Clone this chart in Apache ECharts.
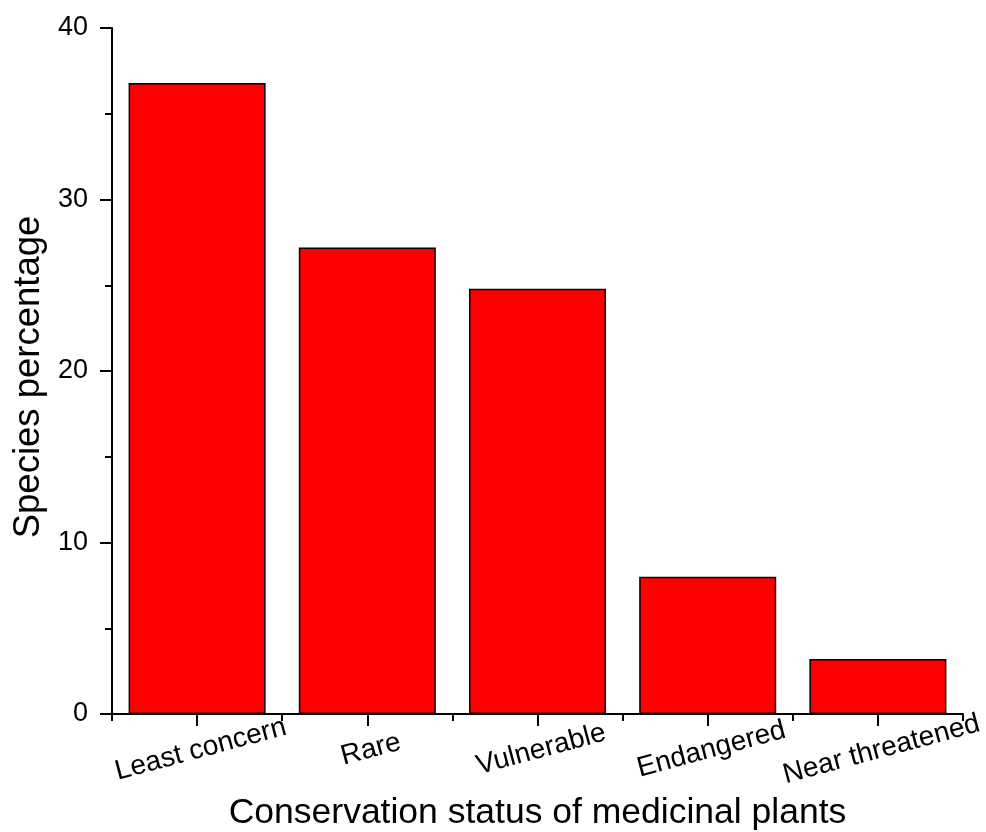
<!DOCTYPE html>
<html>
<head>
<meta charset="utf-8">
<script src="https://cdn.jsdelivr.net/npm/echarts@6/dist/echarts.min.js"></script>
<style>
html,body{margin:0;padding:0;background:#fff;}
#chart{width:986px;height:832px;}
</style>
</head>
<body>
<div id="chart"></div>
<script>
const categories = ['Least concern', 'Rare', 'Vulnerable', 'Endangered', 'Near threatened'];
const speciesPercentage = [36.8, 27.2, 24.8, 8.0, 3.2];
const xTitle = 'Conservation status of medicinal plants';
const yTitle = 'Species percentage';

const chart = echarts.init(document.getElementById('chart'));
const font = 'Liberation Sans, Arial, sans-serif';
chart.setOption({
  animation: false,
  backgroundColor: '#ffffff',
  grid: { left: 112, right: 23, top: 28, bottom: 118, outerBoundsMode: 'none', containLabel: false },
  xAxis: [{
    type: 'category',
    data: categories,
    position: 'bottom',
    name: xTitle,
    nameLocation: 'middle',
    nameGap: 77,
    nameTextStyle: { fontFamily: font, fontSize: 35.5, color: '#000' },
    axisLine: { show: true, lineStyle: { color: '#000', width: 2 } },
    axisTick: { show: true, alignWithLabel: true, length: 12, lineStyle: { color: '#000', width: 2 } },
    axisLabel: {
      interval: 0, rotate: 15, align: 'center', verticalAlign: 'top', margin: 22,
      fontFamily: font, fontSize: 28, color: '#000'
    },
    splitLine: { show: false }
  }, {
    type: 'category',
    data: categories,
    position: 'bottom',
    axisLine: { show: false },
    axisTick: { show: true, alignWithLabel: false, length: 7, lineStyle: { color: '#000', width: 2 } },
    axisLabel: { show: false },
    splitLine: { show: false }
  }],
  yAxis: {
    type: 'value',
    min: 0, max: 40, interval: 10,
    name: yTitle,
    nameLocation: 'middle',
    nameGap: 59,
    nameRotate: 90,
    nameTextStyle: { fontFamily: font, fontSize: 36.5, color: '#000', padding: [0, 12, 0, 0] },
    axisLine: { show: true, lineStyle: { color: '#000', width: 2 } },
    axisTick: { show: true, length: 12, lineStyle: { color: '#000', width: 2 } },
    minorTick: { show: true, splitNumber: 2, length: 7, lineStyle: { color: '#000', width: 2 } },
    axisLabel: { margin: 24, fontFamily: font, fontSize: 27, color: '#000' },
    splitLine: { show: false }
  },
  series: [{
    type: 'bar',
    xAxisIndex: 0,
    data: speciesPercentage,
    barCategoryGap: '19.5%',
    itemStyle: { color: '#ff0000', borderColor: '#000', borderWidth: 1.5 }
  }]
});
</script>
</body>
</html>
